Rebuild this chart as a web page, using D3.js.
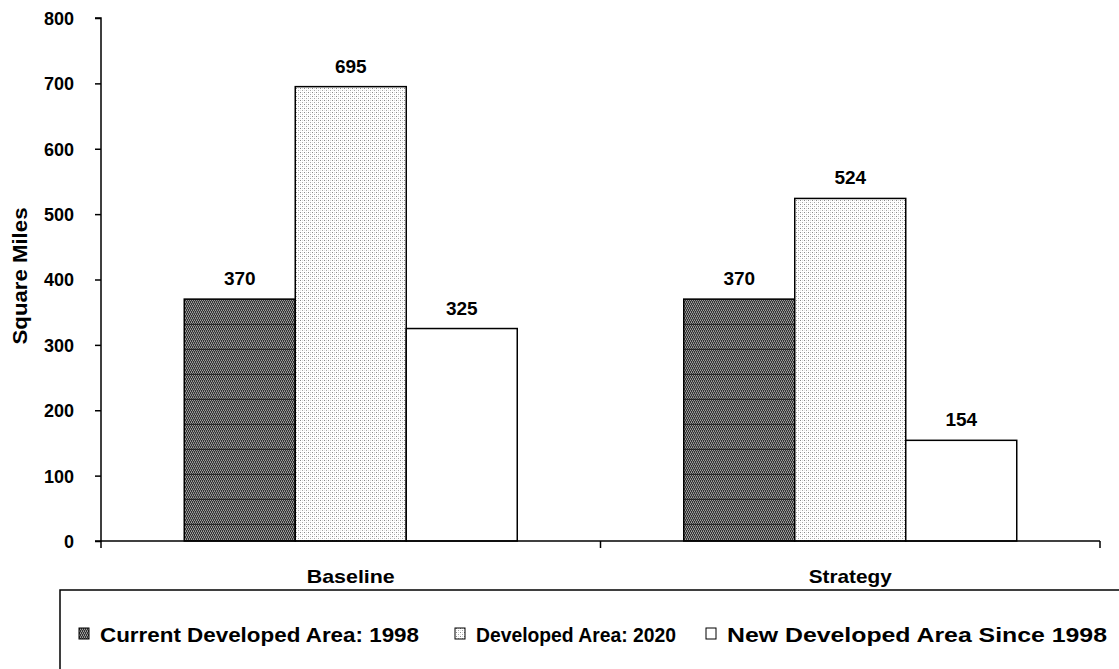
<!DOCTYPE html>
<html><head><meta charset="utf-8">
<script src="https://cdn.jsdelivr.net/npm/d3@7"></script>
<style>body{margin:0;background:#fff}svg{display:block;font-family:"Liberation Sans",Arial,sans-serif}</style>
</head><body><svg id="c" width="1119" height="669"></svg>
<script>
const categories = ["Baseline", "Strategy"];
const seriesNames = ["Current Developed Area: 1998", "Developed Area: 2020", "New Developed Area Since 1998"];
const current1998 = [370, 370];
const developed2020 = [695, 524];
const newSince1998 = [325, 154];
const yTicks = [0, 100, 200, 300, 400, 500, 600, 700, 800];

const series = [current1998, developed2020, newSince1998];
const fills = ["url(#pDark)", "url(#pLight)", "#fff"];

const svg = d3.select("#c");
const defs = svg.append("defs");
// dark checker pattern
const pd = defs.append("pattern").attr("id","pDark").attr("patternUnits","userSpaceOnUse").attr("width",4).attr("height",25);
pd.append("rect").attr("width",4).attr("height",25).attr("fill","#333");
for (let yy=0; yy<24; yy+=2){ for (let xx=0; xx<4; xx+=2){
  pd.append("rect").attr("x",xx+((yy/2)%2)).attr("y",yy).attr("width",1).attr("height",1).attr("fill","#a0a0a0");
  pd.append("rect").attr("x",xx+1-((yy/2)%2)).attr("y",yy+1).attr("width",1).attr("height",1).attr("fill","#808080");
}}
pd.append("rect").attr("x",0).attr("y",24).attr("width",4).attr("height",1).attr("fill","#2a2a2a");
// light dotted pattern
const pl = defs.append("pattern").attr("id","pLight").attr("patternUnits","userSpaceOnUse").attr("width",4).attr("height",4);
pl.append("rect").attr("width",4).attr("height",4).attr("fill","#fff");
pl.append("rect").attr("x",0).attr("y",0).attr("width",1).attr("height",1).attr("fill","#8a8a8a");
pl.append("rect").attr("x",2).attr("y",2).attr("width",1).attr("height",1).attr("fill","#a5a5a5");
pl.append("rect").attr("x",2).attr("y",0).attr("width",1).attr("height",1).attr("fill","#d8d8d8");
pl.append("rect").attr("x",0).attr("y",2).attr("width",1).attr("height",1).attr("fill","#e4e4e4");

const x0 = d3.scaleBand().domain(categories).range([101, 1100]).paddingInner(0).paddingOuter(0);
const x1 = d3.scaleBand().domain(d3.range(series.length)).range([x0.bandwidth()/6, x0.bandwidth()*5/6]).padding(0);
const y = d3.scaleLinear().domain([0, 800]).range([541, 18]);

// y axis
const ya = svg.append("g").attr("transform","translate(101,0)")
  .call(d3.axisLeft(y).tickValues(yTicks).tickSize(6).tickPadding(21).tickFormat(d3.format("d")));
ya.select(".domain").attr("stroke","#000").attr("stroke-width",1.5).attr("d","M-6,18H0V541H-6");
ya.selectAll(".tick line").attr("stroke","#000").attr("stroke-width",1.5);
ya.selectAll(".tick text").attr("font-size",18).attr("font-weight","bold").attr("fill","#000")
  .attr("font-family","'Liberation Sans',Arial,sans-serif").attr("dy","0.36em");

// bars
const g = svg.append("g");
categories.forEach((c, ci) => {
  series.forEach((s, si) => {
    g.append("rect")
      .attr("x", x0(c) + x1(si)).attr("y", y(s[ci]))
      .attr("width", x1.bandwidth()).attr("height", y(0) - y(s[ci]))
      .attr("fill", fills[si]).attr("stroke","#000").attr("stroke-width",1.5);
    g.append("text")
      .attr("x", x0(c) + x1(si) + x1.bandwidth()/2).attr("y", y(s[ci]) - 14)
      .attr("text-anchor","middle").attr("font-size",19).attr("font-weight","bold")
      .text(s[ci]);
  });
});

// x axis
const xa = svg.append("g").attr("transform","translate(0,541)");
xa.append("line").attr("x1",101).attr("x2",1100).attr("stroke","#000").attr("stroke-width",1.5);
[101, x0("Strategy"), 1100].forEach(t => xa.append("line").attr("x1",t).attr("x2",t).attr("y1",0).attr("y2",7).attr("stroke","#000").attr("stroke-width",1.5));
const catLen = {"Baseline": 88, "Strategy": 83};
categories.forEach(c => xa.append("text").attr("x", x0(c)+x0.bandwidth()/2).attr("y",42)
  .attr("text-anchor","middle").attr("font-size",19).attr("font-weight","bold")
  .attr("textLength", catLen[c]).attr("lengthAdjust","spacingAndGlyphs").text(c));

// y title
svg.append("text").attr("transform","translate(27,276) rotate(-90)").attr("text-anchor","middle")
  .attr("font-size",20).attr("font-weight","bold")
  .attr("textLength",137).attr("lengthAdjust","spacingAndGlyphs").text("Square Miles");

// legend
svg.append("rect").attr("x",60).attr("y",590).attr("width",1080).attr("height",100)
  .attr("fill","none").attr("stroke","#000").attr("stroke-width",1.5);
const legX = [79, 455, 706];
const legLen = [319, 200, 380];
seriesNames.forEach((n, i) => {
  svg.append("rect").attr("x",legX[i]).attr("y",628).attr("width",10).attr("height",11)
    .attr("fill",fills[i]).attr("stroke","#000").attr("stroke-width",1);
  svg.append("text").attr("x",legX[i]+21).attr("y",642).attr("font-size",21).attr("font-weight","bold")
    .attr("textLength",legLen[i]).attr("lengthAdjust","spacingAndGlyphs").text(n);
});
</script></body></html>
